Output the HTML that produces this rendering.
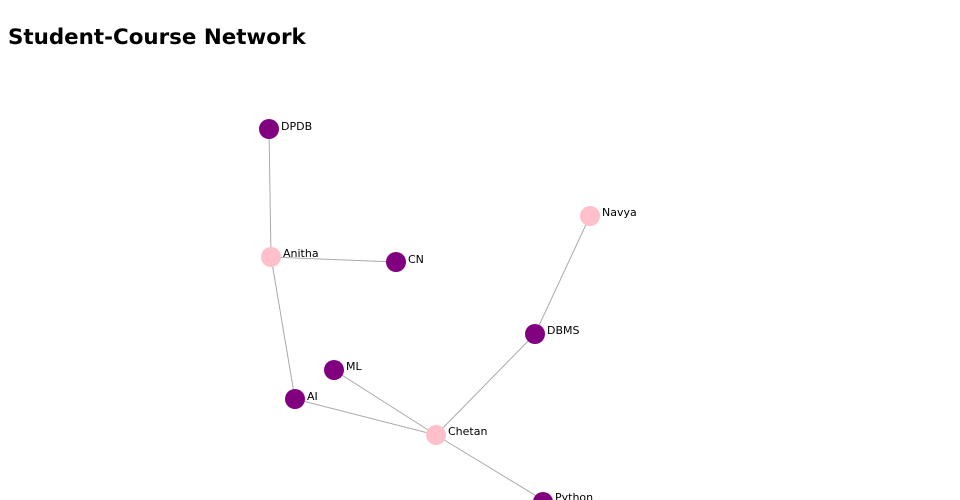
<!DOCTYPE html>
<html><head><style>
body{margin:0;background:#fff;width:960px;height:500px;overflow:hidden;font-family:"Liberation Sans","DejaVu Sans",sans-serif}
h1{position:absolute;left:8px;top:24px;margin:0;font-size:21.4px;font-weight:bold;color:#000;font-family:"DejaVu Sans",sans-serif;line-height:28px}
</style></head><body>
<h1>Student-Course Network</h1>
<svg width="960" height="500" style="position:absolute;left:0;top:0">
<g stroke="#aaa" stroke-width="1">
<line x1="269" y1="129" x2="271" y2="257"/>
<line x1="271" y1="257" x2="396" y2="262"/>
<line x1="271" y1="257" x2="295" y2="399"/>
<line x1="590" y1="216" x2="535" y2="334"/>
<line x1="535" y1="334" x2="436" y2="435"/>
<line x1="334" y1="370" x2="436" y2="435"/>
<line x1="295" y1="399" x2="436" y2="435"/>
<line x1="436" y1="435" x2="543" y2="500"/>
</g>
<g>
<circle cx="269" cy="129" r="10" fill="#800080"/>
<circle cx="271" cy="257" r="10" fill="#ffc0cb"/>
<circle cx="396" cy="262" r="10" fill="#800080"/>
<circle cx="590" cy="216" r="10" fill="#ffc0cb"/>
<circle cx="535" cy="334" r="10" fill="#800080"/>
<circle cx="334" cy="370" r="10" fill="#800080"/>
<circle cx="295" cy="399" r="10" fill="#800080"/>
<circle cx="436" cy="435" r="10" fill="#ffc0cb"/>
<circle cx="543" cy="502" r="10" fill="#800080"/>
</g>
<g fill="#000" font-family="DejaVu Sans,sans-serif" font-size="11">
<text x="281" y="130">DPDB</text>
<text x="283" y="257">Anitha</text>
<text x="408" y="263">CN</text>
<text x="602" y="216">Navya</text>
<text x="547" y="334">DBMS</text>
<text x="346" y="370">ML</text>
<text x="307" y="400">AI</text>
<text x="448" y="435">Chetan</text>
<text x="555" y="501">Python</text>
</g>
</svg>
</body></html>
